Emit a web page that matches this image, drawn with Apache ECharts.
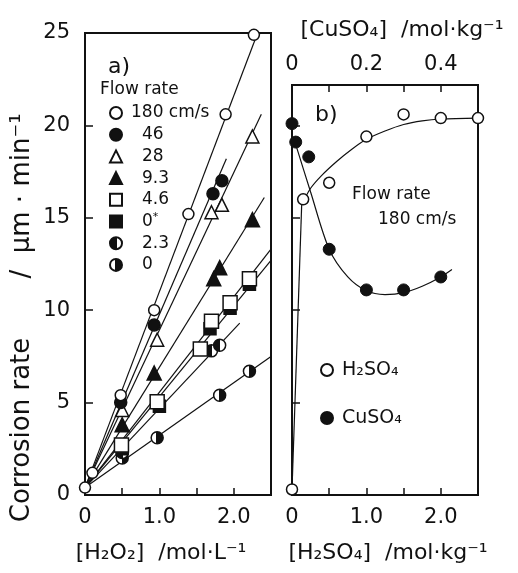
<!DOCTYPE html>
<html>
<head>
<meta charset="utf-8">
<script src="https://cdn.jsdelivr.net/npm/echarts@6/dist/echarts.min.js"></script>
<style>
  html, body { margin: 0; padding: 0; background: #fff; }
  #chart { width: 518px; height: 573px; }
</style>
</head>
<body>
<div id="chart"></div>
<script>
// ---- Panel a: corrosion rate vs [H2O2] at several flow rates (cm/s) ----
const flowRates = ['180', '46', '28', '9.3', '4.6', '0*', '2.3', '0'];

const pts180 = [[0, 0.4], [0.1, 1.2], [0.48, 5.4], [0.93, 10.0], [1.39, 15.2], [1.89, 20.6], [2.27, 24.9]];
const pts46  = [[0.48, 5.0], [0.93, 9.2], [1.72, 16.3], [1.84, 17.0]];
const pts28  = [[0.5, 4.6], [0.97, 8.4], [1.70, 15.3], [1.84, 15.7], [2.25, 19.4]];
const pts9_3 = [[0.5, 3.8], [0.93, 6.6], [1.73, 11.7], [1.81, 12.3], [2.25, 14.9]];
const pts4_6 = [[0.49, 2.7], [0.97, 5.05], [1.55, 7.9], [1.70, 9.4], [1.95, 10.4], [2.21, 11.7]];
const pts0s  = [[0.5, 2.5], [1.0, 4.8], [1.68, 9.0], [1.95, 10.1], [2.21, 11.4]];
const pts2_3 = [[0.5, 2.3], [1.70, 7.8], [1.81, 8.1]];
const pts0   = [[0.5, 2.0], [0.97, 3.1], [1.81, 5.4], [2.21, 6.7]];

// straight fit lines (start, end)
const fit180 = [[0, 0.4], [2.32, 25.0]];
const fit46  = [[0, 0.4], [1.90, 18.2]];
const fit28  = [[0, 0.4], [2.37, 20.6]];
const fit9_3 = [[0, 0.4], [2.41, 16.1]];
const fit4_6 = [[0, 0.4], [2.50, 13.3]];
const fit0s  = [[0, 0.4], [2.50, 12.7]];
const fit2_3 = [[0, 0.4], [2.08, 9.3]];
const fit0   = [[0, 0.4], [2.50, 7.5]];

// ---- Panel b: effect of H2SO4 and CuSO4 at 180 cm/s ----
const h2so4Pts   = [[0, 0.3], [0.15, 16.0], [0.5, 16.9], [1.0, 19.4], [1.5, 20.6], [2.0, 20.4], [2.5, 20.4]];
const h2so4Rise  = [[0, 0.3], [0.13, 15.7]];
const h2so4Curve = [[0.13, 15.7], [0.25, 16.6], [0.4, 17.3], [0.6, 18.05], [0.8, 18.7], [1.0, 19.25], [1.25, 19.7],
                    [1.5, 20.05], [1.75, 20.25], [2.0, 20.35], [2.5, 20.4]];
const cuso4Pts   = [[0, 20.1], [0.01, 19.1], [0.045, 18.3], [0.1, 13.3], [0.2, 11.1], [0.3, 11.1], [0.4, 11.8]];
const cuso4Curve = [[0.008, 19.1], [0.05, 16.4], [0.1, 13.3], [0.15, 11.8], [0.2, 11.05], [0.25, 10.85], [0.3, 10.95],
                    [0.35, 11.3], [0.4, 11.8], [0.43, 12.2]];

// tick labels
const h2Labels = { 0: '0', 1: '1.0', 2: '2.0' };
const cuLabels = { 0: '0', 2: '0.2', 4: '0.4' };

const FONT = 'DejaVu Sans';
const INK = '#111';

const halfFill = (left) => ({
  type: 'linear', x: 0, y: 0, x2: 1, y2: 0,
  colorStops: left
    ? [{ offset: 0, color: INK }, { offset: 0.55, color: INK }, { offset: 0.55, color: '#fff' }, { offset: 1, color: '#fff' }]
    : [{ offset: 0, color: '#fff' }, { offset: 0.45, color: '#fff' }, { offset: 0.45, color: INK }, { offset: 1, color: INK }]
});

const markerStyle = {
  '180': { symbol: 'circle',   size: 11, color: '#fff' },
  '46':  { symbol: 'circle',   size: 12, color: INK },
  '28':  { symbol: 'triangle', size: 13, color: '#fff' },
  '9.3': { symbol: 'triangle', size: 14, color: INK },
  '4.6': { symbol: 'rect',     size: 14, color: '#fff' },
  '0*':  { symbol: 'rect',     size: 12, color: INK },
  '2.3': { symbol: 'circle',   size: 12, color: halfFill(true) },
  '0':   { symbol: 'circle',   size: 12, color: halfFill(false) }
};
const pointsByRate = { '180': pts180, '46': pts46, '28': pts28, '9.3': pts9_3, '4.6': pts4_6, '0*': pts0s, '2.3': pts2_3, '0': pts0 };
const fitByRate    = { '180': fit180, '46': fit46, '28': fit28, '9.3': fit9_3, '4.6': fit4_6, '0*': fit0s, '2.3': fit2_3, '0': fit0 };

const series = [];

// fit lines underneath
flowRates.forEach(r => {
  series.push({
    type: 'line', name: 'fit ' + r, xAxisIndex: 0, yAxisIndex: 0,
    data: fitByRate[r], symbol: 'none', silent: true,
    lineStyle: { color: INK, width: 1.2 }, z: 2
  });
});

// markers, drawn so open squares sit over filled squares
const drawOrder = ['0', '2.3', '0*', '4.6', '9.3', '28', '46', '180'];
drawOrder.forEach(r => {
  const m = markerStyle[r];
  series.push({
    type: 'scatter', name: r, xAxisIndex: 0, yAxisIndex: 0,
    data: pointsByRate[r], symbol: m.symbol, symbolSize: m.size,
    itemStyle: { color: m.color, borderColor: INK, borderWidth: 1.5, opacity: 1 },
    z: 3
  });
});

// panel b curves
series.push({
  type: 'line', name: 'H2SO4 rise', xAxisIndex: 1, yAxisIndex: 1, data: h2so4Rise,
  symbol: 'none', silent: true, lineStyle: { color: INK, width: 1.2 }, z: 2
});
series.push({
  type: 'line', name: 'H2SO4 curve', xAxisIndex: 1, yAxisIndex: 1, data: h2so4Curve,
  symbol: 'none', smooth: 0.3, silent: true, lineStyle: { color: INK, width: 1.2 }, z: 2
});
series.push({
  type: 'line', name: 'CuSO4 curve', xAxisIndex: 2, yAxisIndex: 1, data: cuso4Curve,
  symbol: 'none', smooth: 0.3, silent: true, lineStyle: { color: INK, width: 1.2 }, z: 2
});
series.push({
  type: 'scatter', name: 'H₂SO₄', xAxisIndex: 1, yAxisIndex: 1, data: h2so4Pts,
  symbol: 'circle', symbolSize: 11,
  itemStyle: { color: '#fff', borderColor: INK, borderWidth: 1.5, opacity: 1 }, z: 3
});
series.push({
  type: 'scatter', name: 'CuSO₄', xAxisIndex: 2, yAxisIndex: 1, data: cuso4Pts,
  symbol: 'circle', symbolSize: 12,
  itemStyle: { color: INK, borderColor: INK, borderWidth: 1, opacity: 1 }, z: 3
});

const tickStyle = { show: true, inside: true, length: 7, lineStyle: { color: INK, width: 1.5 } };
const labelStyle = { color: INK, fontSize: 21, fontFamily: FONT };

const chart = echarts.init(document.getElementById('chart'), null, { renderer: 'canvas' });
chart.setOption({
  backgroundColor: '#fff',
  animation: false,
  grid: [
    { left: 85, top: 33, width: 186, height: 462, show: true, borderColor: INK, borderWidth: 2, backgroundColor: 'transparent' },
    { left: 292, top: 85, width: 186, height: 410, show: true, borderColor: INK, borderWidth: 2, backgroundColor: 'transparent' }
  ],
  xAxis: [
    {
      gridIndex: 0, type: 'value', min: 0, max: 2.5, interval: 0.5,
      axisLine: { show: false }, axisTick: tickStyle, splitLine: { show: false },
      axisLabel: Object.assign({ margin: 12, formatter: v => h2Labels[Math.round(v * 2) / 2] || '' }, labelStyle)
    },
    {
      gridIndex: 1, type: 'value', min: 0, max: 2.5, interval: 0.5,
      axisLine: { show: false }, axisTick: tickStyle, splitLine: { show: false },
      axisLabel: Object.assign({ margin: 12, formatter: v => h2Labels[Math.round(v * 2) / 2] || '' }, labelStyle)
    },
    {
      gridIndex: 1, type: 'value', position: 'top', min: 0, max: 0.5, interval: 0.1,
      axisLine: { show: false }, axisTick: tickStyle, splitLine: { show: false },
      axisLabel: Object.assign({ margin: 10, formatter: v => cuLabels[Math.round(v * 10)] || '' }, labelStyle)
    }
  ],
  yAxis: [
    {
      gridIndex: 0, type: 'value', min: 0, max: 25, interval: 5,
      axisLine: { show: false }, axisTick: Object.assign({}, tickStyle, { length: 8 }), splitLine: { show: false },
      axisLabel: Object.assign({ margin: 15 }, labelStyle)
    },
    {
      gridIndex: 1, type: 'value', min: 0, max: 22.19, interval: 5,
      axisLine: { show: false }, axisTick: Object.assign({}, tickStyle, { length: 8 }), splitLine: { show: false },
      axisLabel: { show: false }
    }
  ],
  legend: [
    {
      data: flowRates, orient: 'vertical', left: 109, top: 103, padding: 0,
      itemWidth: 12, itemHeight: 12, itemGap: 1.7, selectedMode: false,
      textStyle: {
        color: INK, fontFamily: FONT, fontSize: 17, lineHeight: 20,
        rich: {
          w: { fontFamily: FONT, fontSize: 17, lineHeight: 20, padding: [0, 0, 0, 4] },
          v: { fontFamily: FONT, fontSize: 17, lineHeight: 20, padding: [0, 0, 0, 15] },
          sup: { fontFamily: FONT, fontSize: 11, lineHeight: 20, verticalAlign: 'top' }
        }
      },
      formatter: n => n === '180' ? '{w|180 cm/s}' : (n === '0*' ? '{v|0}{sup|*}' : '{v|' + n + '}')
    },
    {
      data: ['H₂SO₄', 'CuSO₄'], orient: 'vertical', left: 320, top: 359, padding: 0,
      itemWidth: 12, itemHeight: 12, itemGap: 26, selectedMode: false,
      textStyle: {
        color: INK, fontFamily: FONT, fontSize: 19, lineHeight: 22,
        rich: { t: { fontFamily: FONT, fontSize: 19, lineHeight: 22, padding: [0, 0, 0, 4] } }
      },
      formatter: n => '{t|' + n + '}'
    }
  ],
  graphic: [
    { type: 'text', x: 108, y: 67, style: { text: 'a)', fontSize: 22, fontFamily: FONT, fill: INK, verticalAlign: 'middle' } },
    { type: 'text', x: 100, y: 90, style: { text: 'Flow rate', fontSize: 17, fontFamily: FONT, fill: INK, verticalAlign: 'middle' } },
    { type: 'text', x: 315, y: 115, style: { text: 'b)', fontSize: 22, fontFamily: FONT, fill: INK, verticalAlign: 'middle' } },
    { type: 'text', x: 352, y: 195, style: { text: 'Flow rate', fontSize: 17, fontFamily: FONT, fill: INK, verticalAlign: 'middle' } },
    { type: 'text', x: 378, y: 220, style: { text: '180 cm/s', fontSize: 17, fontFamily: FONT, fill: INK, verticalAlign: 'middle' } },
    // y-axis title, quantity and unit set as two rotated runs
    { type: 'text', x: 22, y: 430, rotation: Math.PI / 2,
      style: { text: 'Corrosion rate', fontSize: 26, fontFamily: FONT, fill: INK, align: 'center', verticalAlign: 'middle' } },
    { type: 'text', x: 22, y: 196, rotation: Math.PI / 2,
      style: { text: '/  μm · min⁻¹', fontSize: 26, fontFamily: FONT, fill: INK, align: 'center', verticalAlign: 'middle' } },
    { type: 'text', x: 161, y: 553,
      style: { text: '[H₂O₂]  /mol·L⁻¹', fontSize: 22, fontFamily: FONT, fill: INK, align: 'center', verticalAlign: 'middle' } },
    { type: 'text', x: 388, y: 553,
      style: { text: '[H₂SO₄]  /mol·kg⁻¹', fontSize: 22, fontFamily: FONT, fill: INK, align: 'center', verticalAlign: 'middle' } },
    { type: 'text', x: 402, y: 30,
      style: { text: '[CuSO₄]  /mol·kg⁻¹', fontSize: 22, fontFamily: FONT, fill: INK, align: 'center', verticalAlign: 'middle' } }
  ],
  series: series
});
</script>
</body>
</html>
